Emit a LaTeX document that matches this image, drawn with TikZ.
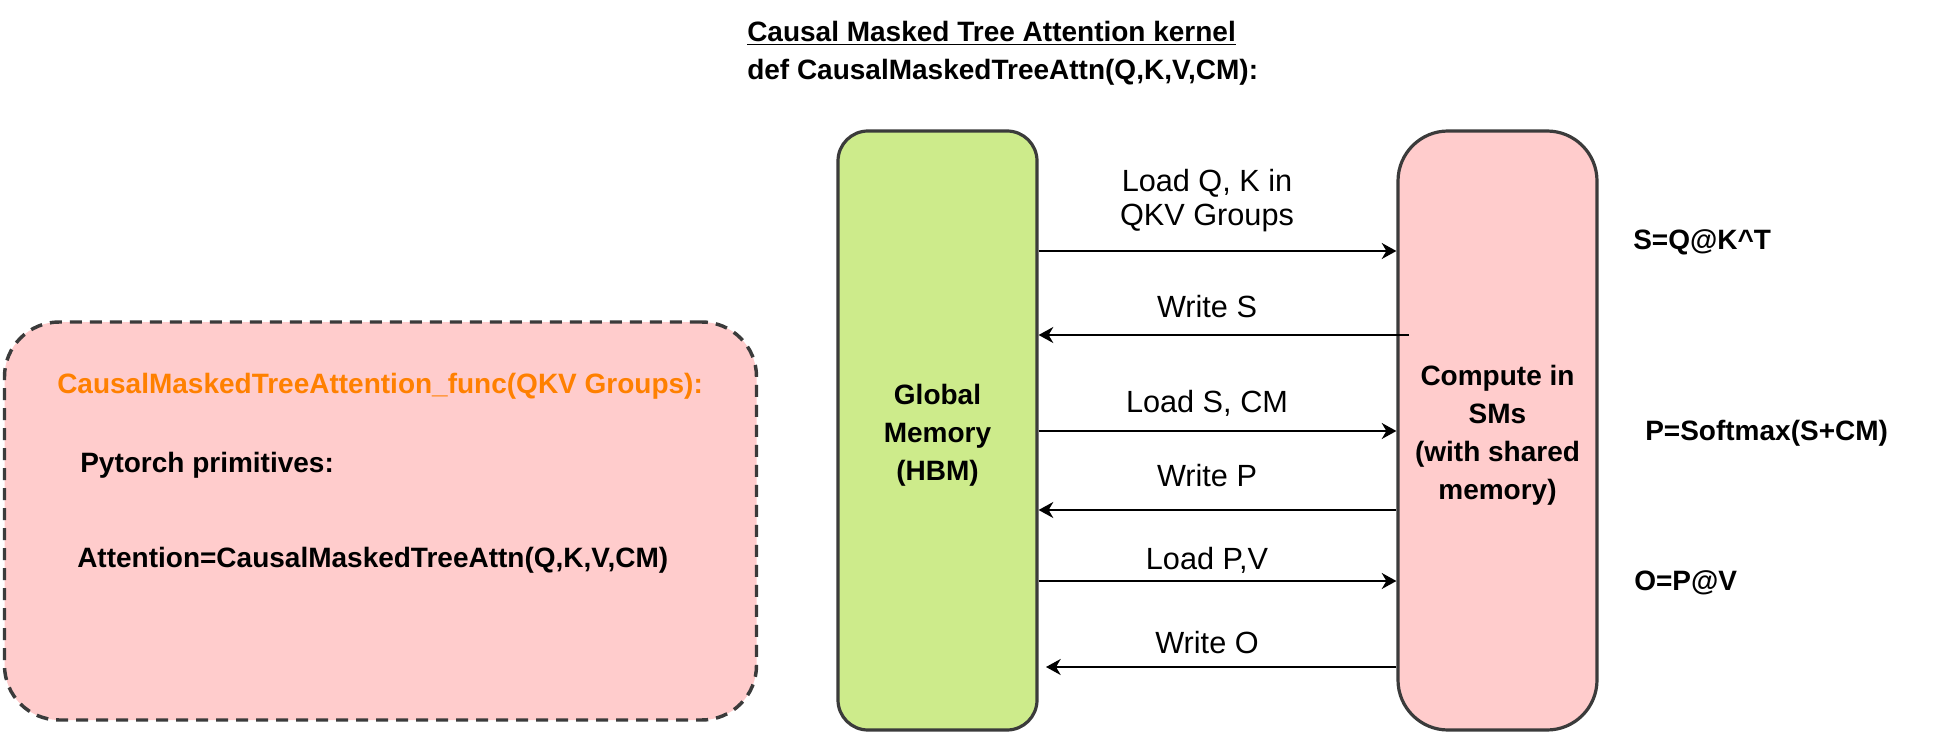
\documentclass[tikz,border=0pt]{standalone}
\usepackage{fontspec}
\setmainfont{Liberation Sans}
\usetikzlibrary{arrows.meta}
\definecolor{gfill}{HTML}{CDEB8B}
\definecolor{pfill}{HTML}{FFCCCC}
\definecolor{bord}{HTML}{3B3B3B}
\definecolor{orng}{HTML}{FF8000}
\begin{document}
\begin{tikzpicture}[x=0.75pt,y=-0.75pt,
  box/.style={draw=bord, line width=2.4pt, inner sep=0pt},
  bfont/.style={font=\bfseries\fontsize{21}{28.5}\selectfont},
  lfont/.style={font=\fontsize{23}{26}\selectfont},
  arr/.style={line width=1.6pt, -{Stealth[length=11pt,width=12pt,inset=3.5pt]}},
  lab/.style={lfont, anchor=base, inner sep=0pt},
  txt/.style={bfont, anchor=base west, inner sep=0pt},
  intxt/.style={bfont, align=center, inner sep=0pt}]

\useasboundingbox (0,0) rectangle (1938,734);

% function box
\node[draw=bord, line width=2.6pt, dash pattern=on 9pt off 6pt, fill=pfill,
      rounded corners=41pt, minimum width=564pt, minimum height=298.5pt,
      inner sep=0pt] (fn) at (380.5,521) {};
\node[txt, text=orng] (fh) at (57,393) {CausalMaskedTreeAttention\_func(QKV Groups):};
\node[txt] (pp) at (80,472) {Pytorch primitives:};
\node[txt] (at) at (77,567) {Attention=CausalMaskedTreeAttn(Q,K,V,CM)};

% title
\node[txt] (t1) at (747,42) {\underline{Causal Masked Tree Attention kernel}};
\node[txt] (t2) at (747,80) {def CausalMaskedTreeAttn(Q,K,V,CM):};

% main boxes
\node[box, fill=gfill, rounded corners=22.5pt, minimum width=149.25pt,
      minimum height=449.25pt] (gm) at (937.5,430.5) {};
\node[box, fill=pfill, rounded corners=37.5pt, minimum width=149.25pt,
      minimum height=449.25pt] (cs) at (1497.5,430.5) {};
\node[intxt] (gmt) at ([yshift=-3.5pt]gm.center) {Global\\Memory\\(HBM)};
\node[intxt] (cst) at ([yshift=-3.5pt]cs.center) {Compute in\\SMs\\(with shared\\memory)};

% arrows
\coordinate (y1) at (0,251);
\coordinate (ws) at (1409,335);
\coordinate (y3) at (0,431);
\coordinate (y4) at (0,510);
\coordinate (y5) at (0,581);
\coordinate (wo) at (1046,667);
\draw[arr] (gm.east |- y1) -- (cs.west |- y1);
\draw[arr] (ws) -- (gm.east |- ws);
\draw[arr] (gm.east |- y3) -- (cs.west |- y3);
\draw[arr] (cs.west |- y4) -- (gm.east |- y4);
\draw[arr] (gm.east |- y5) -- (cs.west |- y5);
\draw[arr] (cs.west |- wo) -- (wo);

% arrow labels
\node[lab] (l1a) at (1207,192) {Load Q, K in};
\node[lab] (l1b) at (1207,226) {QKV Groups};
\node[lab] (l2) at (1207,317) {Write S};
\node[lab] (l3) at (1207,412) {Load S, CM};
\node[lab] (l4) at (1207,486) {Write P};
\node[lab] (l5) at (1207,569) {Load P,V};
\node[lab] (l6) at (1207,653) {Write O};

% formulas
\node[txt] (f1) at (1633,250) {S=Q@K\^{}T};
\node[txt] (f2) at (1645,440) {P=Softmax(S+CM)};
\node[txt] (f3) at (1634,590) {O=P@V};
\end{tikzpicture}
\end{document}
